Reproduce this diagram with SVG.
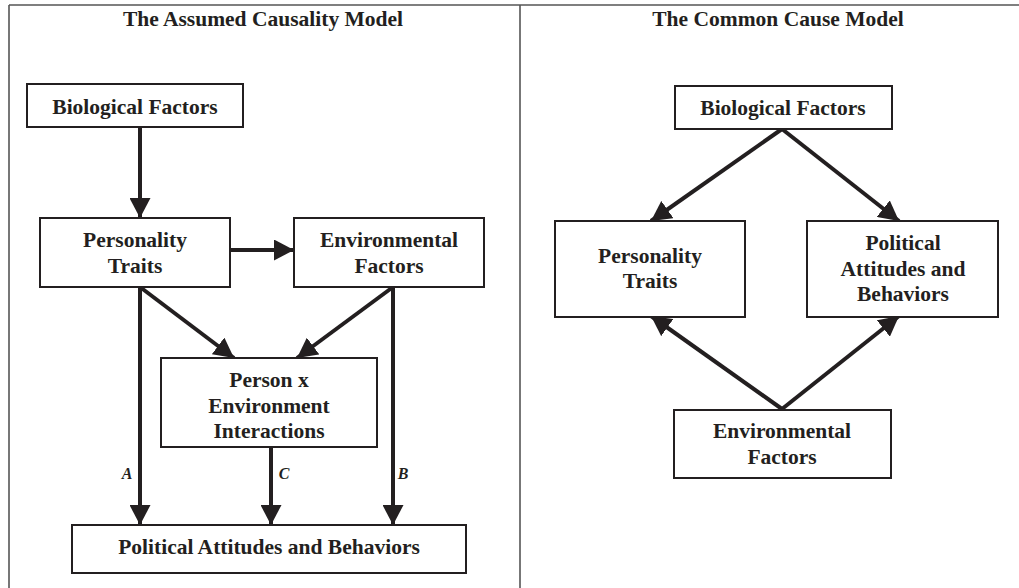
<svg xmlns="http://www.w3.org/2000/svg" width="1019" height="588" viewBox="0 0 1019 588">
<defs>
<style>
.frame{stroke:#555;stroke-width:1.6;fill:none}
.box{fill:#fff;stroke:#231f20;stroke-width:2}
.t{font-family:"Liberation Serif","Times New Roman",serif;font-weight:bold;font-size:21.5px;fill:#231f20;text-anchor:middle}
.lbl{font-family:"Liberation Serif","Times New Roman",serif;font-weight:bold;font-style:italic;font-size:16px;fill:#231f20;text-anchor:middle}
.arr{stroke:#231f20;stroke-width:4;fill:none;marker-end:url(#ah)}
</style>
<marker id="ah" markerUnits="userSpaceOnUse" viewBox="0 0 20 21" refX="20" refY="10.5" markerWidth="20" markerHeight="21" orient="auto">
<path d="M0,0 L20,10.5 L0,21 Z" fill="#231f20"/>
</marker>
</defs>
<rect width="1019" height="588" fill="#fff"/>
<g id="frame">
<line class="frame" x1="9" y1="5" x2="1019" y2="5"/>
<line class="frame" x1="9" y1="5" x2="9" y2="588"/>
<line class="frame" x1="520" y1="5" x2="520" y2="588"/>
</g>
<text class="t" x="263" y="26">The Assumed Causality Model</text>
<text class="t" x="778" y="26">The Common Cause Model</text>
<g id="connectors">
<line class="arr" x1="140" y1="127" x2="140" y2="218"/>
<line class="arr" x1="230" y1="250" x2="294" y2="250"/>
<line class="arr" x1="140" y1="287" x2="140" y2="525"/>
<line class="arr" x1="140" y1="287" x2="234" y2="358"/>
<line class="arr" x1="393" y1="287" x2="297" y2="358"/>
<line class="arr" x1="393" y1="287" x2="393" y2="525"/>
<line class="arr" x1="271" y1="447" x2="271" y2="525"/>
<line class="arr" x1="782" y1="129" x2="651" y2="221"/>
<line class="arr" x1="782" y1="129" x2="899" y2="221"/>
<line class="arr" x1="782" y1="409" x2="651" y2="316"/>
<line class="arr" x1="782" y1="409" x2="899" y2="316"/>
<text class="lbl" x="127" y="479">A</text>
<text class="lbl" x="284" y="479">C</text>
<text class="lbl" x="403" y="479">B</text>
</g>
<g id="left-bio">
<rect class="box" x="27" y="84" width="216" height="43"/>
<text class="t" x="135" y="114">Biological Factors</text>
</g>
<g id="left-personality">
<rect class="box" x="40" y="218" width="190" height="69"/>
<text class="t" x="135" y="247">Personality</text>
<text class="t" x="135" y="273">Traits</text>
</g>
<g id="left-environmental">
<rect class="box" x="294" y="218" width="190" height="69"/>
<text class="t" x="389" y="247">Environmental</text>
<text class="t" x="389" y="273">Factors</text>
</g>
<g id="left-interaction">
<rect class="box" x="161" y="358" width="216" height="89"/>
<text class="t" x="269" y="387">Person x</text>
<text class="t" x="269" y="413">Environment</text>
<text class="t" x="269" y="438">Interactions</text>
</g>
<g id="left-political">
<rect class="box" x="72" y="525" width="394" height="48"/>
<text class="t" x="269" y="554">Political Attitudes and Behaviors</text>
</g>
<g id="right-bio">
<rect class="box" x="675" y="86" width="217" height="43"/>
<text class="t" x="783" y="115">Biological Factors</text>
</g>
<g id="right-personality">
<rect class="box" x="555" y="221" width="190" height="96"/>
<text class="t" x="650" y="263">Personality</text>
<text class="t" x="650" y="288">Traits</text>
</g>
<g id="right-political">
<rect class="box" x="807" y="221" width="191" height="96"/>
<text class="t" x="903" y="250">Political</text>
<text class="t" x="903" y="276">Attitudes and</text>
<text class="t" x="903" y="301">Behaviors</text>
</g>
<g id="right-environmental">
<rect class="box" x="674" y="410" width="217" height="68"/>
<text class="t" x="782" y="438">Environmental</text>
<text class="t" x="782" y="464">Factors</text>
</g>
</svg>
